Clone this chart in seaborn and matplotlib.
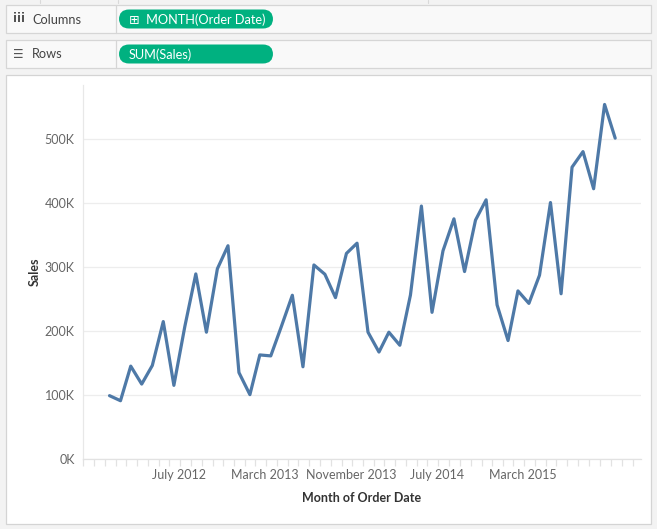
import numpy as np
import pandas as pd
import seaborn as sns
import matplotlib.pyplot as plt
from matplotlib.patches import Rectangle, FancyBboxPatch

# monthly sales (SUM(Sales)), Jan 2012 .. Dec 2015
months = pd.date_range("2012-01-01", periods=48, freq="MS")
sales_k = [98.9, 91, 145, 117, 146, 214.6, 115, 207, 289, 198, 297, 333,
           135, 100.5, 162.5, 161, 207, 255.7, 144, 303, 288.5, 252, 321, 337,
           198, 167, 198, 177.6, 256, 395, 229, 325, 375, 292.7, 373, 404.7,
           240.6, 185, 262.5, 243, 287, 400.5, 258, 455.7, 480, 422, 553.6, 501]
y_ticks = [0, 100000, 200000, 300000, 400000, 500000]
label_months = ["2012-07-01", "2013-03-01", "2013-11-01", "2014-07-01", "2015-03-01"]

df = pd.DataFrame({"month": months, "sales": np.array(sales_k) * 1000})

sns.set_theme(style="white")
plt.rcParams["font.family"] = ["Lato", "DejaVu Sans"]

W, H = 657, 529
fig = plt.figure(figsize=(W / 100, H / 100), dpi=100)
fig.patch.set_facecolor("#f3f3f3")

# ---- background layer in pixel coords (shelves + panel) ----
bg = fig.add_axes([0, 0, 1, 1], zorder=0)
bg.set_xlim(0, W)
bg.set_ylim(H, 0)
bg.axis("off")

# top strip lines
for x in [40, 118, 428]:
    bg.plot([x, x], [0, 3], color="#d9d9d9", lw=0.8)

for (y0, y1, name, icon, pill) in [(5, 33, "Columns", "iii", "\u229e  MONTH(Order Date)"),
                                   (40, 68, "Rows", "\u2630", "SUM(Sales)")]:
    bg.add_patch(Rectangle((6, y0), 645, y1 - y0, facecolor="#f9f9f9",
                           edgecolor="#d6d6d6", lw=0.9))
    bg.plot([116, 116], [y0, y1], color="#d6d6d6", lw=0.9)
    bg.text(13, (y0 + y1) / 2, icon, fontsize=8.5, color="#555555", va="center",
            ha="left", fontweight="bold", family=["DejaVu Sans"])
    bg.text(32, (y0 + y1) / 2 + 0.5, name, fontsize=9.2, color="#444444", va="center", ha="left")
    bg.add_patch(FancyBboxPatch((119, y0 + 4.5), 154, y1 - y0 - 9,
                                boxstyle="round,pad=0,rounding_size=10",
                                facecolor="#00b180", edgecolor="none"))
    bg.text(129, (y0 + y1) / 2 + 0.5, pill, fontsize=9.2, color="white", va="center",
            ha="left", family=["Lato", "DejaVu Sans"])

bg.add_patch(Rectangle((6, 75), 645, 449, facecolor="white", edgecolor="#d4d4d4", lw=0.9))

# ---- main chart ----
left, right = 83 / W, 641 / W
bottom, top = 1 - 459 / H, 1 - 85 / H
ax = fig.add_axes([left, bottom, right - left, top - bottom], zorder=1)
ax.set_facecolor("white")

sns.lineplot(data=df, x="month", y="sales", color="#4e79a7", linewidth=2.3, ax=ax)

ax.set_yticks(y_ticks)
ax.set_yticklabels([f"{v // 1000}K" for v in y_ticks])
ax.yaxis.grid(True, color="#ededed", lw=0.9)
ax.xaxis.grid(False)

lm = pd.to_datetime(label_months)
ax.set_xticks(lm + pd.Timedelta(days=14))
ax.set_xticklabels([d.strftime("%B %Y") for d in lm])
minor = pd.date_range("2011-10-01", "2016-03-01", freq="MS") - pd.Timedelta(days=13)
ax.set_xticks(minor, minor=True)

# limits after ticks, so the ticks do not widen the view
ax.set_xlim(pd.Timestamp("2011-10-18"), pd.Timestamp("2016-02-12"))
ax.set_ylim(0, 584000)

ax.tick_params(axis="x", which="major", length=0, pad=7, labelsize=9, labelcolor="#666666")
ax.tick_params(axis="x", which="minor", length=5, width=0.9, color="#e2e2e2", direction="out", bottom=True)
ax.tick_params(axis="y", length=0, pad=6, labelsize=9, labelcolor="#666666")

for s in ["top", "right"]:
    ax.spines[s].set_visible(False)
ax.spines["left"].set_color("#e8e8e8")
ax.spines["bottom"].set_color("#e2e2e2")
ax.spines["left"].set_linewidth(0.9)
ax.spines["bottom"].set_linewidth(0.9)

ax.set_xlabel("Month of Order Date", fontsize=9, color="#333333", fontweight="bold", labelpad=8)
ax.set_ylabel("Sales", fontsize=9, color="#333333", fontweight="bold", labelpad=3)

fig.savefig("out.png", dpi=100, facecolor=fig.get_facecolor())
